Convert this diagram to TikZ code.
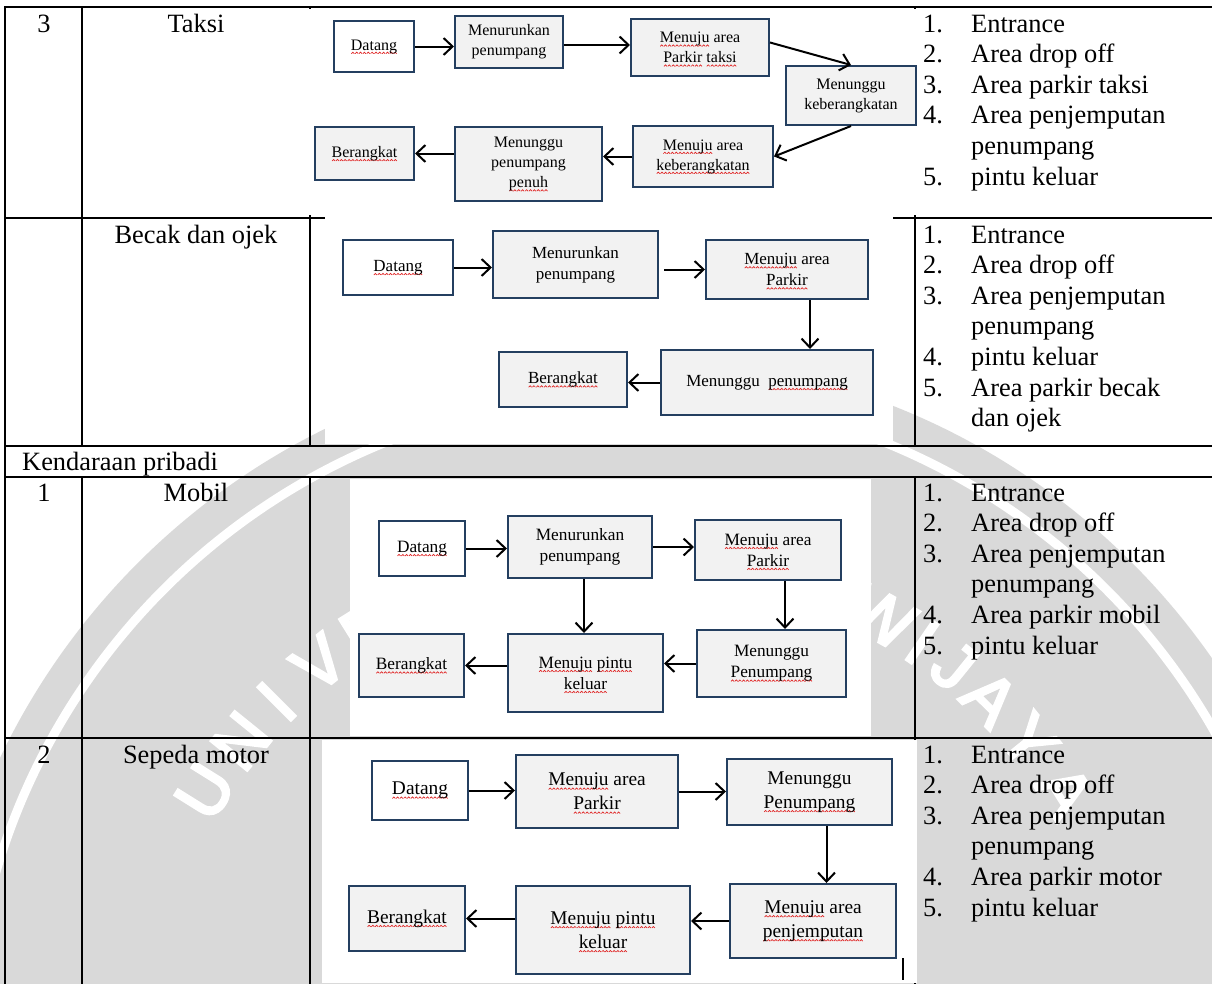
\documentclass[tikz,border=0pt]{standalone}
\usepackage{fontspec}
\setmainfont{Liberation Serif}
\newfontfamily\wmfont{Liberation Sans}[FakeBold=4]
\usetikzlibrary{arrows.meta}

\definecolor{wmgray}{HTML}{D9D9D9}
\definecolor{boxline}{HTML}{243F60}
\definecolor{boxfill}{HTML}{F2F2F2}
\definecolor{squig}{HTML}{E02424}

% red spell-check wave under a word
\newsavebox\wavebox
\newcommand\sq[1]{\setbox0=\hbox{#1}\leavevmode\rlap{\raisebox{-4pt}[0pt][0pt]{\hbox to\wd0{\xleaders\copy\wavebox\hfil}}}\box0\relax}

\newcommand\tabfont{\fontsize{26.4}{30.6}\selectfont}

\tikzset{
  box/.style={draw=boxline, line width=2pt, fill=boxfill, align=center, inner sep=1pt},
  wbox/.style={box, fill=white},
  sz/.style 2 args={minimum width=#1pt, minimum height=#2pt},
  fT/.style={font=\fontsize{16}{20}\selectfont},
  fB/.style={font=\fontsize{17}{21}\selectfont},
  fM/.style={font=\fontsize{17.3}{21}\selectfont},
  fS/.style={font=\fontsize{19.4}{24}\selectfont},
  arr/.style={line width=2pt, -{Straight Barb[length=9pt,width=17pt]}},
  grid/.style={line width=2.4pt, line cap=rect},
  cell/.style={font=\tabfont, anchor=base, inner sep=0pt},
  lst/.style={font=\tabfont, anchor=base west, inner sep=0pt},
  sealtext/.style={text=white, inner sep=0pt, font=\wmfont\fontsize{68}{68}\selectfont},
}

% numbered list entries in the last column
\newcommand\li[4]{\node[lst] (#1n) at (923,#2) {#3}; \node[lst] (#1t) at (971,#2) {#4};}
\newcommand\lc[3]{\node[lst] (#1t) at (971,#2) {#3};}

\begin{document}
\sbox\wavebox{\begin{pgfpicture}
  \pgfpathmoveto{\pgfpoint{0pt}{0pt}}
  \pgfpathlineto{\pgfpoint{1.5pt}{1.5pt}}
  \pgfpathlineto{\pgfpoint{3pt}{0pt}}
  \pgfsetlinewidth{0.7pt}
  \pgfsetstrokecolor{squig}
  \pgfusepath{stroke}
  \pgfpathrectangle{\pgfpoint{0pt}{0pt}}{\pgfpoint{3pt}{1.5pt}}
  \pgfusepath{use as bounding box}
\end{pgfpicture}}%
\begin{tikzpicture}[x=1pt, y=-1pt]
\useasboundingbox (0,0) rectangle (1212,983);
\fill[white] (0,0) rectangle (1212,983);

% watermark seal: grey disc, white ring, lettering round the rim
\begin{scope}
  \clip (0,0) rectangle (1212,983);
  \coordinate (seal) at (635,1060);
  \fill[wmgray] (seal) circle[radius=703pt];
  \draw[white, line width=9pt] (seal) circle[radius=666pt];
  \foreach \ch/\ang [count=\k] in {U/148, N/141, I/135, V/128.5, E/122, R/116,
      S/110, I/104.5, T/99.5, A/94, S/88, B/78, R/72, A/66.5, W/61, I/55.5,
      J/51, A/45.5, Y/39, A/32}
    \node[sealtext, rotate=\ang-90] (seal\k) at ([shift={(seal)}]\ang:507pt) {\ch};
\end{scope}

% table grid
\draw[grid] (5,7) -- (1212,7);
\draw[grid] (5,218) -- (1212,218);
\draw[grid] (5,446) -- (1212,446);
\draw[grid] (5,477) -- (1212,477);
\draw[grid] (5,738) -- (1212,738);
\draw[grid] (5,7) -- (5,983);
\draw[grid] (82,7) -- (82,446);
\draw[grid] (82,477) -- (82,983);
\draw[grid] (310,7) -- (310,446);
\draw[grid] (310,477) -- (310,983);
\draw[grid] (915,7) -- (915,446);
\draw[grid] (915,477) -- (915,983);

% flowchart panels
\fill[white] (297,9) rectangle (918,215);
\fill[white] (325,216) rectangle (893,444);
\fill[white] (350,479) rectangle (871,736);
\fill[white] (322,740) rectangle (917,983);

% first column texts
\node[cell] (r1no) at (44,32) {3};
\node[cell] (r1name) at (196,32) {Taksi};
\node[cell] (r2name) at (196,243) {Becak dan ojek};
\node[cell, anchor=base west] (grp) at (22,470) {Kendaraan pribadi};
\node[cell] (r3no) at (44,501) {1};
\node[cell] (r3name) at (196,501) {Mobil};
\node[cell] (r4no) at (44,763) {2};
\node[cell] (r4name) at (196,763) {Sepeda motor};

% lists
\li{ta}{32}{1.}{Entrance}
\li{tb}{62.6}{2.}{Area drop off}
\li{tc}{93.2}{3.}{Area parkir taksi}
\li{td}{123.8}{4.}{Area penjemputan}
\lc{te}{154.4}{penumpang}
\li{tf}{185}{5.}{pintu keluar}

\li{ba}{243}{1.}{Entrance}
\li{bb}{273.6}{2.}{Area drop off}
\li{bc}{304.2}{3.}{Area penjemputan}
\lc{bd}{334.8}{penumpang}
\li{be}{365.4}{4.}{pintu keluar}
\li{bf}{396}{5.}{Area parkir becak}
\lc{bg}{426.6}{dan ojek}

\li{ma}{501}{1.}{Entrance}
\li{mb}{531.6}{2.}{Area drop off}
\li{mc}{562.2}{3.}{Area penjemputan}
\lc{md}{592.8}{penumpang}
\li{me}{623.4}{4.}{Area parkir mobil}
\li{mf}{654}{5.}{pintu keluar}

\li{sa}{763}{1.}{Entrance}
\li{sb}{793.6}{2.}{Area drop off}
\li{sc}{824.2}{3.}{Area penjemputan}
\lc{sd}{854.8}{penumpang}
\li{se}{885.4}{4.}{Area parkir motor}
\li{sf}{916}{5.}{pintu keluar}

% taxi flow
\node[wbox, fT, sz={80}{51}] (t1) at (374,46.5) {\sq{Datang}};
\node[box, fT, sz={108}{52}] (t2) at (509,42) {Menurunkan\\penumpang};
\node[box, fT, sz={138}{57}] (t3) at (700,47.5) {\sq{Menuju} area\\\sq{Parkir} \sq{taksi}};
\node[box, fT, sz={130}{59}] (t4) at (851,95.5) {Menunggu\\keberangkatan};
\node[box, fT, sz={140}{61}] (t5) at (703,156.5) {\sq{Menuju} area\\\sq{keberangkatan}};
\node[box, fT, sz={147}{74}] (t6) at (528.5,164) {Menunggu\\penumpang\\\sq{penuh}};
\node[box, fT, sz={99}{53}] (t7) at (364.5,153.5) {\sq{Berangkat}};
\draw[arr] (t1.east) -- (t1.east -| t2.west);
\draw[arr] ([yshift=-3pt]t2.east) -- ([yshift=-3pt]t2.east -| t3.west);
\draw[arr] ([yshift=5pt]t3.east) -- (t4.north);
\draw[arr] (t4.south) -- (t5.east);
\draw[arr] (t5.west) -- (t5.west -| t6.east);
\draw[arr] (t6.west |- t7.east) -- (t7.east);

% becak and ojek flow
\node[wbox, fB, sz={110}{55}] (b1) at (398,267.5) {\sq{Datang}};
\node[box, fB, sz={165}{67}] (b2) at (575.5,264.5) {Menurunkan\\penumpang};
\node[box, fB, sz={162}{59}] (b3) at (787,269.5) {\sq{Menuju} area\\\sq{Parkir}};
\node[box, fB, sz={212}{65}] (b4) at (767,382.5) {Menunggu\ \ \sq{penumpang}};
\node[box, fB, sz={128}{55}] (b5) at (563,379.5) {\sq{Berangkat}};
\draw[arr] (b1.east) -- (b1.east -| b2.west);
\draw[arr, shorten <=5pt] (b2.east |- b3.west) -- (b3.west);
\draw[arr] ([xshift=23pt]b3.south) -- ([xshift=23pt]b3.south |- b4.north);
\draw[arr] (b4.west) -- (b4.west -| b5.east);

% car flow
\node[wbox, fM, sz={86}{55}] (m1) at (422,548.5) {\sq{Datang}};
\node[box, fM, sz={144}{62}] (m2) at (580,547) {Menurunkan\\penumpang};
\node[box, fM, sz={146}{60}] (m3) at (768,550) {\sq{Menuju} area\\\sq{Parkir}};
\node[box, fM, sz={105}{63}] (m4) at (411.5,665.5) {\sq{Berangkat}};
\node[box, fM, sz={155}{78}] (m5) at (585.5,673) {\sq{Menuju} \sq{pintu}\\\sq{keluar}};
\node[box, fM, sz={149}{67}] (m6) at (771.5,663.5) {Menunggu\\\sq{Penumpang}};
\draw[arr] (m1.east) -- (m1.east -| m2.west);
\draw[arr] (m2.east) -- (m2.east -| m3.west);
\draw[arr] ([xshift=4pt]m2.south) -- ([xshift=4pt]m2.south |- m5.north);
\draw[arr] ([xshift=17pt]m3.south) -- ([xshift=17pt]m3.south |- m6.north);
\draw[arr] (m6.west) -- (m6.west -| m5.east);
\draw[arr] (m5.west |- m4.east) -- (m4.east);

% motorcycle flow
\node[wbox, fS, sz={96}{59}] (s1) at (420,790.5) {\sq{Datang}};
\node[box, fS, sz={162}{73}] (s2) at (597,791.5) {\sq{Menuju} area\\\sq{Parkir}};
\node[box, fS, sz={165}{66}] (s3) at (809.5,792) {Menunggu\\\sq{Penumpang}};
\node[box, fS, sz={166}{74}] (s4) at (813,921) {\sq{Menuju} area\\\sq{penjemputan}};
\node[box, fS, sz={174}{88}] (s5) at (603,930) {\sq{Menuju} \sq{pintu}\\\sq{keluar}};
\node[box, fS, sz={116}{65}] (s6) at (407,918.5) {\sq{Berangkat}};
\draw[arr] (s1.east) -- (s1.east -| s2.west);
\draw[arr] (s2.east) -- (s2.east -| s3.west);
\draw[arr] ([xshift=17pt]s3.south) -- ([xshift=17pt]s3.south |- s4.north);
\draw[arr] (s4.west) -- (s4.west -| s5.east);
\draw[arr] (s5.west |- s6.east) -- (s6.east);

% text cursor mark
\draw[line width=2pt] (903,958) -- (903,980);
\end{tikzpicture}
\end{document}
